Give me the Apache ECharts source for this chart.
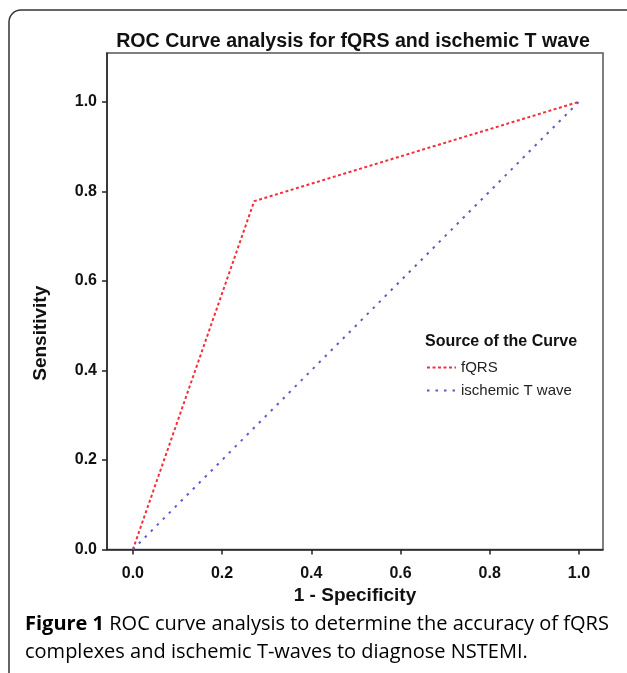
<!DOCTYPE html>
<html>
<head>
<meta charset="utf-8">
<script src="https://cdn.jsdelivr.net/npm/echarts@6/dist/echarts.min.js"></script>
<style>
html,body{margin:0;padding:0;background:#fff}
#chart{width:627px;height:673px}
</style>
</head>
<body>
<div id="chart"></div>
<script>
// data
var seriesNames=['fQRS','ischemic T wave'];
var fqrsPts=[[0,0],[0.272,0.778],[1,1]];
var twavePts=[[0,0],[1,1]];
var tickVals=[0,0.2,0.4,0.6,0.8,1.0];
var chartTitle='ROC Curve analysis for fQRS and ischemic T wave';
var legendTitle='Source of the Curve';
var capBold='Figure 1';
var capLines=[' ROC curve analysis to determine the accuracy of fQRS','complexes and ischemic T-waves to diagnose NSTEMI.'];

var fnt='"Liberation Sans", Arial, sans-serif';
var capFnt='"Open Sans", "Noto Sans", sans-serif';

var chart=echarts.init(document.getElementById('chart'),null,{renderer:'canvas'});

var axisCommon={
	type:'value',
	axisLine:{show:true,onZero:false,lineStyle:{color:'#222',width:1.5}},
	axisTick:{show:true,length:5,lineStyle:{color:'#222',width:1.5},customValues:tickVals},
	axisLabel:{fontFamily:fnt,fontWeight:'bold',fontSize:16,color:'#111',
		customValues:tickVals,formatter:function(v){return v.toFixed(1)}},
	splitLine:{show:false},
	nameLocation:'middle',
	nameTextStyle:{fontFamily:fnt,fontWeight:'bold',fontSize:19,color:'#111'}
};

chart.setOption({
	backgroundColor:'#fff',
	animation:false,
	title:[{
		text:chartTitle,left:348,top:27,textAlign:'center',
		textStyle:{fontFamily:fnt,fontWeight:'bold',fontSize:19.6,color:'#111'}
	},{
		text:legendTitle,left:420,top:329,
		textStyle:{fontFamily:fnt,fontWeight:'bold',fontSize:16,color:'#111'}
	}],
	grid:{left:107,right:24,top:53,bottom:123.5,show:true,borderColor:'#555',borderWidth:1.5,containLabel:false},
	xAxis:Object.assign({},axisCommon,{min:-0.058,max:1.054,name:'1 - Specificity',nameGap:33,
		axisLabel:Object.assign({},axisCommon.axisLabel,{margin:16})}),
	yAxis:Object.assign({},axisCommon,{min:0,max:1.109,name:'Sensitivity',nameGap:57,
		nameTextStyle:Object.assign({},axisCommon.nameTextStyle,{padding:[0,64,0,0]}),
		axisLabel:Object.assign({},axisCommon.axisLabel,{margin:10})}),
	legend:{
		orient:'vertical',left:421,top:355,itemWidth:29,itemHeight:12,itemGap:8,
		data:seriesNames,
		itemStyle:{opacity:0},
		textStyle:{fontFamily:fnt,fontSize:15,color:'#222'}
	},
	series:[{
		name:seriesNames[0],type:'line',data:fqrsPts,symbol:'none',
		lineStyle:{color:'#f2303c',width:2,type:[3,2.5]},itemStyle:{color:'#f2303c'}
	},{
		name:seriesNames[1],type:'line',data:twavePts,symbol:'none',
		lineStyle:{color:'#5a5ac8',width:2,type:[2.5,6]},itemStyle:{color:'#5a5ac8'}
	}],
	graphic:[{
		type:'rect',shape:{x:9,y:10,width:680,height:720,r:12},
		style:{fill:null,stroke:'#333',lineWidth:1.5},silent:true,z:-1
	},{
		type:'text',left:25,top:614,
		style:{
			text:'{b|'+capBold+'}{r|'+capLines[0]+'}\n{r|'+capLines[1]+'}',
			rich:{
				b:{fontFamily:capFnt,fontWeight:'bold',fontSize:20,color:'#222',lineHeight:28},
				r:{fontFamily:capFnt,fontSize:20,color:'#222',lineHeight:28}
			}
		}
	}]
});
</script>
</body>
</html>
